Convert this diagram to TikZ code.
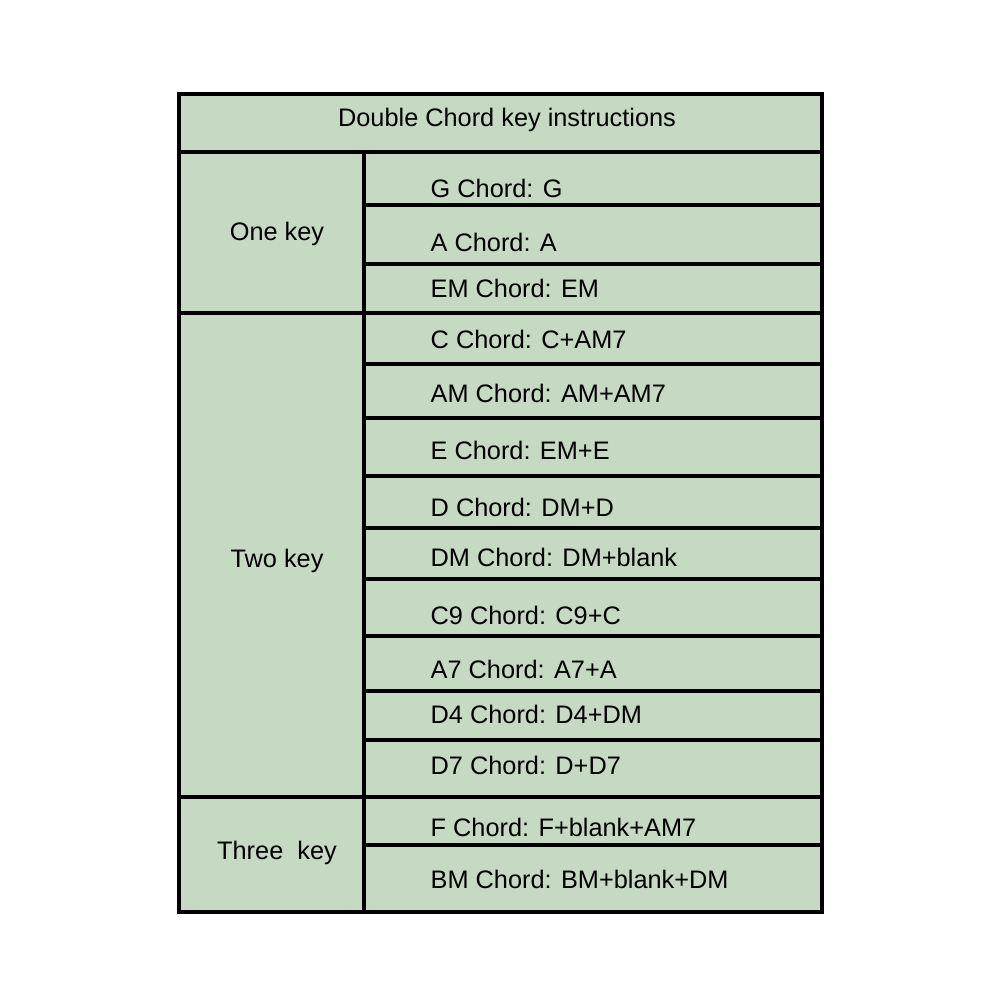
\documentclass[tikz,border=0pt]{standalone}
\usepackage{fontspec}
\setmainfont{Liberation Sans}
\definecolor{tablegreen}{HTML}{C6D9C3}
\begin{document}
\begin{tikzpicture}[x=0.01cm,y=-0.01cm]
\tikzstyle{grid}=[line width=0.9pt,black];
\tikzstyle{txt}=[font=\fontsize{7.2}{9}\selectfont,inner sep=0pt];
\tikzstyle{chord}=[txt,anchor=west];
\useasboundingbox (0,0) rectangle (1001,1001);
\fill [tablegreen] (179,94) rectangle (822,912);
% horizontal rules of the right column
\foreach \y in {205,264,313,364,418,476,528,579,636,691,740,797,845}
  \draw [grid] (364,\y) -- (822,\y);
\draw [grid] (179,152) -- (822,152);
\draw [grid] (179,313) -- (364,313);
\draw [grid] (179,797) -- (364,797);
\draw [grid] (364,152) -- (364,912);
\draw [grid] (179,94) rectangle (822,912);
\node [txt] (title) at (507,120) {Double Chord key instructions};
\node [txt] (one) at (277,234) {One key};
\node [txt] (two) at (277,561) {Two key};
\node [txt] (three) at (277,853) {Three\ \ key};
\foreach \y/\t [count=\i] in {188/G Chord: G, 242/A Chord: A, 288/EM Chord: EM,
  339/C Chord: C+AM7, 393/AM Chord: AM+AM7, 450/E Chord: EM+E,
  507/D Chord: DM+D, 557/DM Chord: DM+blank, 615/C9 Chord: C9+C,
  669/A7 Chord: A7+A, 714/D4 Chord: D4+DM, 765/D7 Chord: D+D7,
  827/F Chord: F+blank+AM7, 879/BM Chord: BM+blank+DM}
  \node [chord] (c\i) at (430,\y) {\t};
\end{tikzpicture}
\end{document}
